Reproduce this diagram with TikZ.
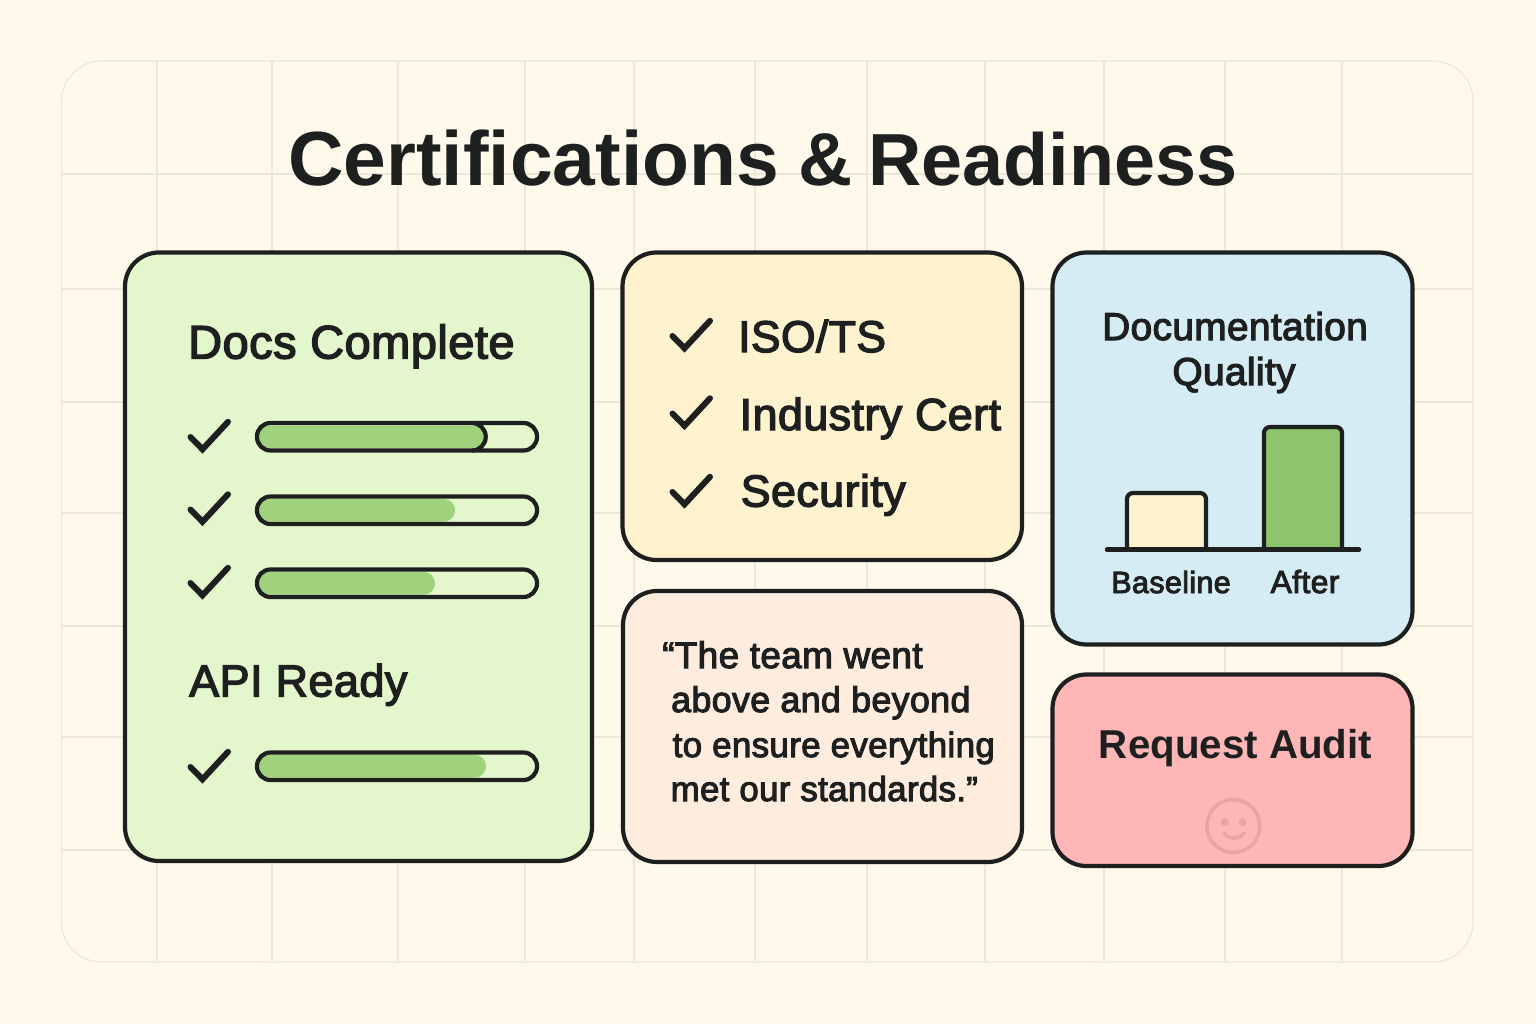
\documentclass[tikz,border=0pt]{standalone}
\usepackage[RGB]{xcolor}
\usepackage{fontspec}
\setmainfont{Liberation Sans}
\newfontfamily\medfont[FakeBold=3,LetterSpace=1]{Liberation Sans}
\definecolor{paper}{RGB}{254,249,234}
\definecolor{gridline}{RGB}{235,232,216}
\definecolor{ink}{RGB}{30,32,32}
\definecolor{G}{RGB}{228,246,204}
\definecolor{Y}{RGB}{255,243,207}
\definecolor{B}{RGB}{213,236,245}
\definecolor{P}{RGB}{254,236,223}
\definecolor{R}{RGB}{255,182,182}
\definecolor{barfill}{RGB}{160,210,126}
\definecolor{aftergreen}{RGB}{140,197,110}
\definecolor{smile}{RGB}{236,163,163}
\tikzset{
  txt/.style={anchor=base west,inner sep=0pt,text=ink,font=\medfont\fontsize{#1}{#1}\selectfont},
  txtc/.style={anchor=base,inner sep=0pt,text=ink,font=\medfont\fontsize{#1}{#1}\selectfont},
  boldtxt/.style={anchor=base,inner sep=0pt,text=ink,font=\bfseries\fontsize{#1}{#1}\selectfont}
}
\newcommand{\drawthick}{\draw[line width=4.2pt,ink]}
\newcommand{\drawcard}[5]{\drawthick[fill=#1,rounded corners=34pt] (#2,#3) rectangle (#4,#5);}
\newcommand{\drawtick}[2]{\draw[line width=6pt,ink,line cap=round,line join=miter] (#1,#2)--++(12,12.3)--++(25.5,-27.5);}
\newcommand{\drawbar}[2]{
  \fill[barfill,rounded corners=11pt] (258,#1+2.5) rectangle (#2,#1+25);
  \drawthick[rounded corners=13.5pt] (257,#1) rectangle (537,#1+27.5);
}
\begin{document}
\begin{tikzpicture}[x=1pt,y=-1pt]
\useasboundingbox (0,0) rectangle (1536,1024);
\fill[paper] (0,0) rectangle (1536,1024);
\begin{scope}
  \clip[rounded corners=40pt] (61.5,61) rectangle (1473,962);
  \foreach \x in {157,272,398,525,634,755,867,985,1104,1225,1342}{
    \draw[gridline,line width=1.2pt] (\x,61)--(\x,962);
  }
  \foreach \y in {174,289,402,513,626,737,850}{
    \draw[gridline,line width=1.2pt] (61,\y)--(1473,\y);
  }
\end{scope}
\draw[gridline,line width=1.2pt,rounded corners=40pt] (61.5,61) rectangle (1473,962);
\node[boldtxt=75] (title) at (763,186) {\fontsize{76.8}{76}\selectfont Certifications\kern-2pt{} \fontsize{75}{75}\selectfont\&\kern-5pt{} \fontsize{73.8}{74}\selectfont Readiness};
\drawcard{G}{125}{252.5}{592}{861}
\drawcard{Y}{622.5}{252.5}{1022}{560}
\drawcard{P}{623}{591}{1022}{862}
\drawcard{B}{1052.5}{252.5}{1412.5}{644.5}
\drawcard{R}{1052.5}{674.5}{1412.5}{866}
\node[txt=47] (docs) at (188,358.5) {Docs Complete};
\foreach \y in {437,509.5,583,767}{
  \drawtick{190.5}{\y}
}
\drawbar{423}{484}
\draw[ink,line width=4.2pt] (472,423) arc[start angle=-90,end angle=90,radius=13.75];
\drawbar{496.5}{455}
\drawbar{569.5}{435}
\drawbar{752.5}{486}
\node[txt=45] (api) at (189,696.5) {API Ready};
\foreach \y in {336,413.5,492}{
  \drawtick{672.5}{\y}
}
\node[txt=44.4] (iso) at (738,352) {ISO/TS};
\node[txt=44.8] (industry) at (739.5,430) {Industry Cert};
\node[txt=44.8] (security) at (740.5,506.5) {Security};
\node[txt=36.9] (quoteone) at (662,668) {“The team went};
\node[txt=35.8] (quotetwo) at (671,712) {above and beyond};
\node[txt=34.9] (quotethree) at (672.5,757) {to ensure everything};
\node[txt=34.8] (quotefour) at (670.5,801) {met our standards.”};
\node[txtc=38.8] (docq) at (1235,340) {Documentation};
\node[txtc=38.8] (qual) at (1234,385) {Quality};
\drawthick[fill=Y,rounded corners=6pt] (1127,550)--(1127,493)--(1206,493)--(1206,550);
\drawthick[fill=aftergreen,rounded corners=6pt] (1264,550)--(1264,427)--(1342,427)--(1342,550);
\draw[ink,line width=4.5pt,line cap=round] (1107,549.7)--(1359,549.7);
\node[txtc=30.6] (base) at (1171,593) {Baseline};
\node[txtc=32] (after) at (1305,593) {After};
\node[boldtxt=40.3] (audit) at (1235.5,758) {Request Audit};
\draw[smile,line width=3.5pt] (1233.3,826) circle[radius=26.5];
\fill[smile] (1225,822) circle[radius=4] (1242.7,822) circle[radius=4];
\draw[smile,line width=3.5pt,line cap=round] (1224,833) .. controls (1229,840) and (1239,840) .. (1244,833);
\end{tikzpicture}
\end{document}
